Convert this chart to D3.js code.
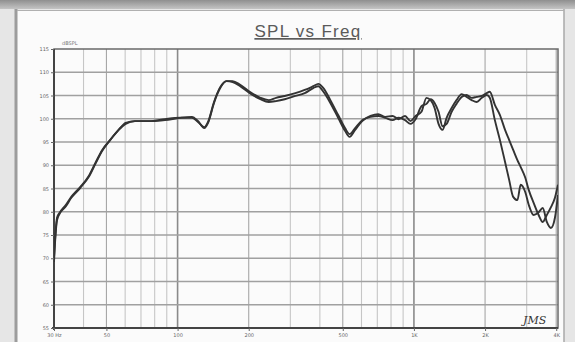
<!DOCTYPE html>
<html>
<head>
<meta charset="utf-8">
<script src="https://cdn.jsdelivr.net/npm/d3@7/dist/d3.min.js"></script>
<style>
  html, body { margin: 0; padding: 0; background: #e8e8e8; }
  svg { display: block; }
</style>
</head>
<body>
<svg id="chart" width="575" height="342"></svg>
<script>
// Frequency points (Hz) shared by both sweeps
const freqs = [30, 30.4, 30.9, 31.8, 33.7, 35.5, 38.7, 42.1, 44.9, 48.0,
  51.8, 56.3, 60.3, 66.0, 77.4, 88.4, 102.6, 115, 122, 129.7,
  135, 142.6, 151.5, 161, 171, 184, 202, 224, 243, 261,
  284, 315, 345, 375, 394, 414, 443, 478, 511, 534,
  564, 604, 655, 707, 757, 812, 862, 917, 967, 1016,
  1076, 1130, 1177, 1223, 1271, 1321, 1375, 1444, 1514, 1592,
  1671, 1756, 1844, 1938, 2032, 2094, 2200, 2312, 2430, 2530,
  2630, 2740, 2830, 2960, 3060, 3210, 3370, 3507, 3650, 3800,
  3950, 4070];

// SPL (dB) of the first sweep
const splA = [70.1, 75.0, 78.7, 79.9, 81.5, 83.2, 85.3, 87.7, 90.5, 93.3,
  95.4, 97.6, 99.1, 99.5, 99.5, 99.7, 100.2, 100.4, 99.5, 98.0,
  99.3, 103.4, 106.6, 108.1, 107.9, 107.0, 105.5, 104.2, 103.6, 103.8,
  104.2, 104.9, 105.5, 106.6, 107.0, 105.8, 103.4, 100.2, 97.4, 96.1,
  97.6, 99.5, 100.6, 101.0, 100.4, 100.6, 99.9, 100.6, 99.5, 100.6,
  101.5, 104.5, 104.0, 102.3, 98.9, 97.6, 100.2, 102.3, 104.0, 105.3,
  104.7, 104.0, 103.6, 104.5, 105.1, 104.5, 99.7, 95.4, 90.7, 86.8,
  83.2, 82.5, 85.8, 84.2, 81.5, 79.3, 79.9, 80.8, 77.8, 76.5,
  78.7, 83.6];

// SPL (dB) of the second sweep
const splB = [69.2, 74.4, 78.2, 79.7, 81.2, 83.0, 85.1, 87.5, 90.3, 93.1,
  95.4, 97.6, 98.9, 99.5, 99.5, 99.9, 100.2, 100.2, 99.3, 98.2,
  99.5, 103.6, 106.8, 108.1, 108.1, 107.3, 105.8, 104.5, 104.0, 104.5,
  104.9, 105.5, 106.2, 107.0, 107.5, 106.6, 104.0, 100.8, 98.0, 96.7,
  98.0, 99.7, 100.4, 100.6, 100.2, 99.7, 100.2, 99.7, 98.9, 99.9,
  102.7, 103.2, 104.2, 103.4, 101.5, 98.4, 98.9, 101.5, 103.2, 104.7,
  105.1, 104.5, 104.7, 104.9, 105.5, 105.8, 103.0, 100.8, 97.6, 95.4,
  93.3, 91.1, 89.6, 87.3, 84.7, 81.9, 79.3, 77.8, 79.3, 81.0,
  83.0, 85.8];

// Axis ticks
const dbTicks = [55, 60, 65, 70, 75, 80, 85, 90, 95, 100, 105, 110, 115];
const freqTicks = [30, 50, 100, 200, 500, 1000, 2000, 4000];
const freqTickLabels = ["30 Hz", "50", "100", "200", "500", "1K", "2K", "4K"];

const svg = d3.select("#chart");
const W = 575, H = 342;

// Window frame around the plot page
svg.append("rect").attr("x", 0).attr("y", 0).attr("width", W).attr("height", H).attr("fill", "#e6e6e6");
const grad = svg.append("defs").append("linearGradient")
  .attr("id", "topband").attr("x1", 0).attr("y1", 0).attr("x2", 0).attr("y2", 1);
grad.append("stop").attr("offset", "0%").attr("stop-color", "#8f8f8f");
grad.append("stop").attr("offset", "100%").attr("stop-color", "#c4c4c4");
svg.append("rect").attr("x", 0).attr("y", 0).attr("width", W).attr("height", 9).attr("fill", "url(#topband)");
svg.append("rect").attr("x", 17).attr("y", 10).attr("width", 547).attr("height", H - 10)
  .attr("fill", "#fbfbfb");
svg.append("line").attr("x1", 16).attr("x2", 16).attr("y1", 9).attr("y2", H)
  .attr("stroke", "#9c9c9c").attr("stroke-width", 3);
svg.append("line").attr("x1", 564).attr("x2", 564).attr("y1", 9).attr("y2", H)
  .attr("stroke", "#a8a8a8").attr("stroke-width", 1.5);
svg.append("line").attr("x1", 17).attr("x2", 564).attr("y1", 10.5).attr("y2", 10.5)
  .attr("stroke", "#b0b0b0").attr("stroke-width", 1);

const pL = 54, pR = 558, pT = 49, pB = 328;
const x = d3.scaleLog().domain([30, 4070]).range([pL, pR]);
const y = d3.scaleLinear().domain([55, 115]).range([pB, pT]);

// Title
svg.append("text")
  .attr("x", 308).attr("y", 37)
  .attr("text-anchor", "middle")
  .attr("font-family", "Liberation Sans, Arial, sans-serif")
  .attr("font-size", 17)
  .attr("letter-spacing", 1.3)
  .attr("fill", "#5a5a5a")
  .attr("text-decoration", "underline")
  .text("SPL vs Freq");

// Vertical grid: every 1..9 multiple per decade
const minorFreqs = [];
[10, 100, 1000].forEach(dec => {
  for (let m = 1; m <= 9; m++) {
    const f = dec * m;
    if (f > 30 && f < 4070) minorFreqs.push(f);
  }
});
svg.append("g").selectAll("line").data(minorFreqs).join("line")
  .attr("x1", d => x(d)).attr("x2", d => x(d))
  .attr("y1", pT).attr("y2", pB)
  .attr("stroke", d => (d === 100 || d === 1000) ? "#8a8a8a" : (freqTicks.includes(d) ? "#a6a6a6" : "#c6c6c6"))
  .attr("stroke-width", d => (d === 100 || d === 1000) ? 1.6 : 1.1);

// Horizontal grid
svg.append("g").selectAll("line").data(dbTicks.slice(1, -1)).join("line")
  .attr("x1", pL).attr("x2", pR)
  .attr("y1", d => y(d)).attr("y2", d => y(d))
  .attr("stroke", "#a0a0a0").attr("stroke-width", 1.4);

// Plot frame
svg.append("rect")
  .attr("x", pL).attr("y", pT).attr("width", pR - pL).attr("height", pB - pT)
  .attr("fill", "none").attr("stroke", "#6a6a6a").attr("stroke-width", 1.5);
svg.append("line").attr("x1", pL).attr("x2", pL).attr("y1", pT).attr("y2", pB + 2)
  .attr("stroke", "#444").attr("stroke-width", 2);
svg.append("line").attr("x1", pL - 2).attr("x2", pR).attr("y1", pB).attr("y2", pB)
  .attr("stroke", "#444").attr("stroke-width", 2);

// Axes
const yAxis = d3.axisLeft(y).tickValues(dbTicks).tickSize(3).tickPadding(2).tickFormat(d3.format("d"));
const gy = svg.append("g").attr("transform", `translate(${pL},0)`).call(yAxis);
gy.select(".domain").remove();
gy.selectAll("line").attr("stroke", "#666");
gy.selectAll("text").attr("font-size", 5).attr("fill", "#666")
  .attr("font-family", "DejaVu Sans, sans-serif");

const xAxis = d3.axisBottom(x).tickValues(freqTicks).tickSize(3).tickPadding(2)
  .tickFormat((d, i) => freqTickLabels[i]);
const gx = svg.append("g").attr("transform", `translate(0,${pB})`).call(xAxis);
gx.select(".domain").remove();
gx.selectAll("line").attr("stroke", "#666");
gx.selectAll("text").attr("font-size", 5).attr("fill", "#666")
  .attr("font-family", "DejaVu Sans, sans-serif");

// Unit label above the SPL axis
svg.append("text").attr("x", 62).attr("y", 45)
  .attr("font-size", 5).attr("fill", "#777")
  .attr("font-family", "DejaVu Sans, sans-serif")
  .text("dBSPL");

// Response curves
const line = d3.line()
  .x(d => x(d[0]))
  .y(d => y(d[1]))
  .curve(d3.curveMonotoneX);

svg.append("clipPath").attr("id", "plotclip")
  .append("rect").attr("x", pL).attr("y", pT).attr("width", pR - pL).attr("height", pB - pT);

const curves = svg.append("g").attr("clip-path", "url(#plotclip)");
[splB, splA].forEach(series => {
  curves.append("path")
    .datum(freqs.map((f, i) => [f, series[i]]))
    .attr("fill", "none")
    .attr("stroke", "#333")
    .attr("stroke-width", 1.9)
    .attr("stroke-linejoin", "round")
    .attr("d", line);
});

// Handwritten initials
svg.append("text").attr("x", 523).attr("y", 324)
  .attr("font-family", "DejaVu Serif, serif")
  .attr("font-style", "italic")
  .attr("font-size", 11)
  .attr("fill", "#333")
  .text("JMS");
</script>
</body>
</html>
